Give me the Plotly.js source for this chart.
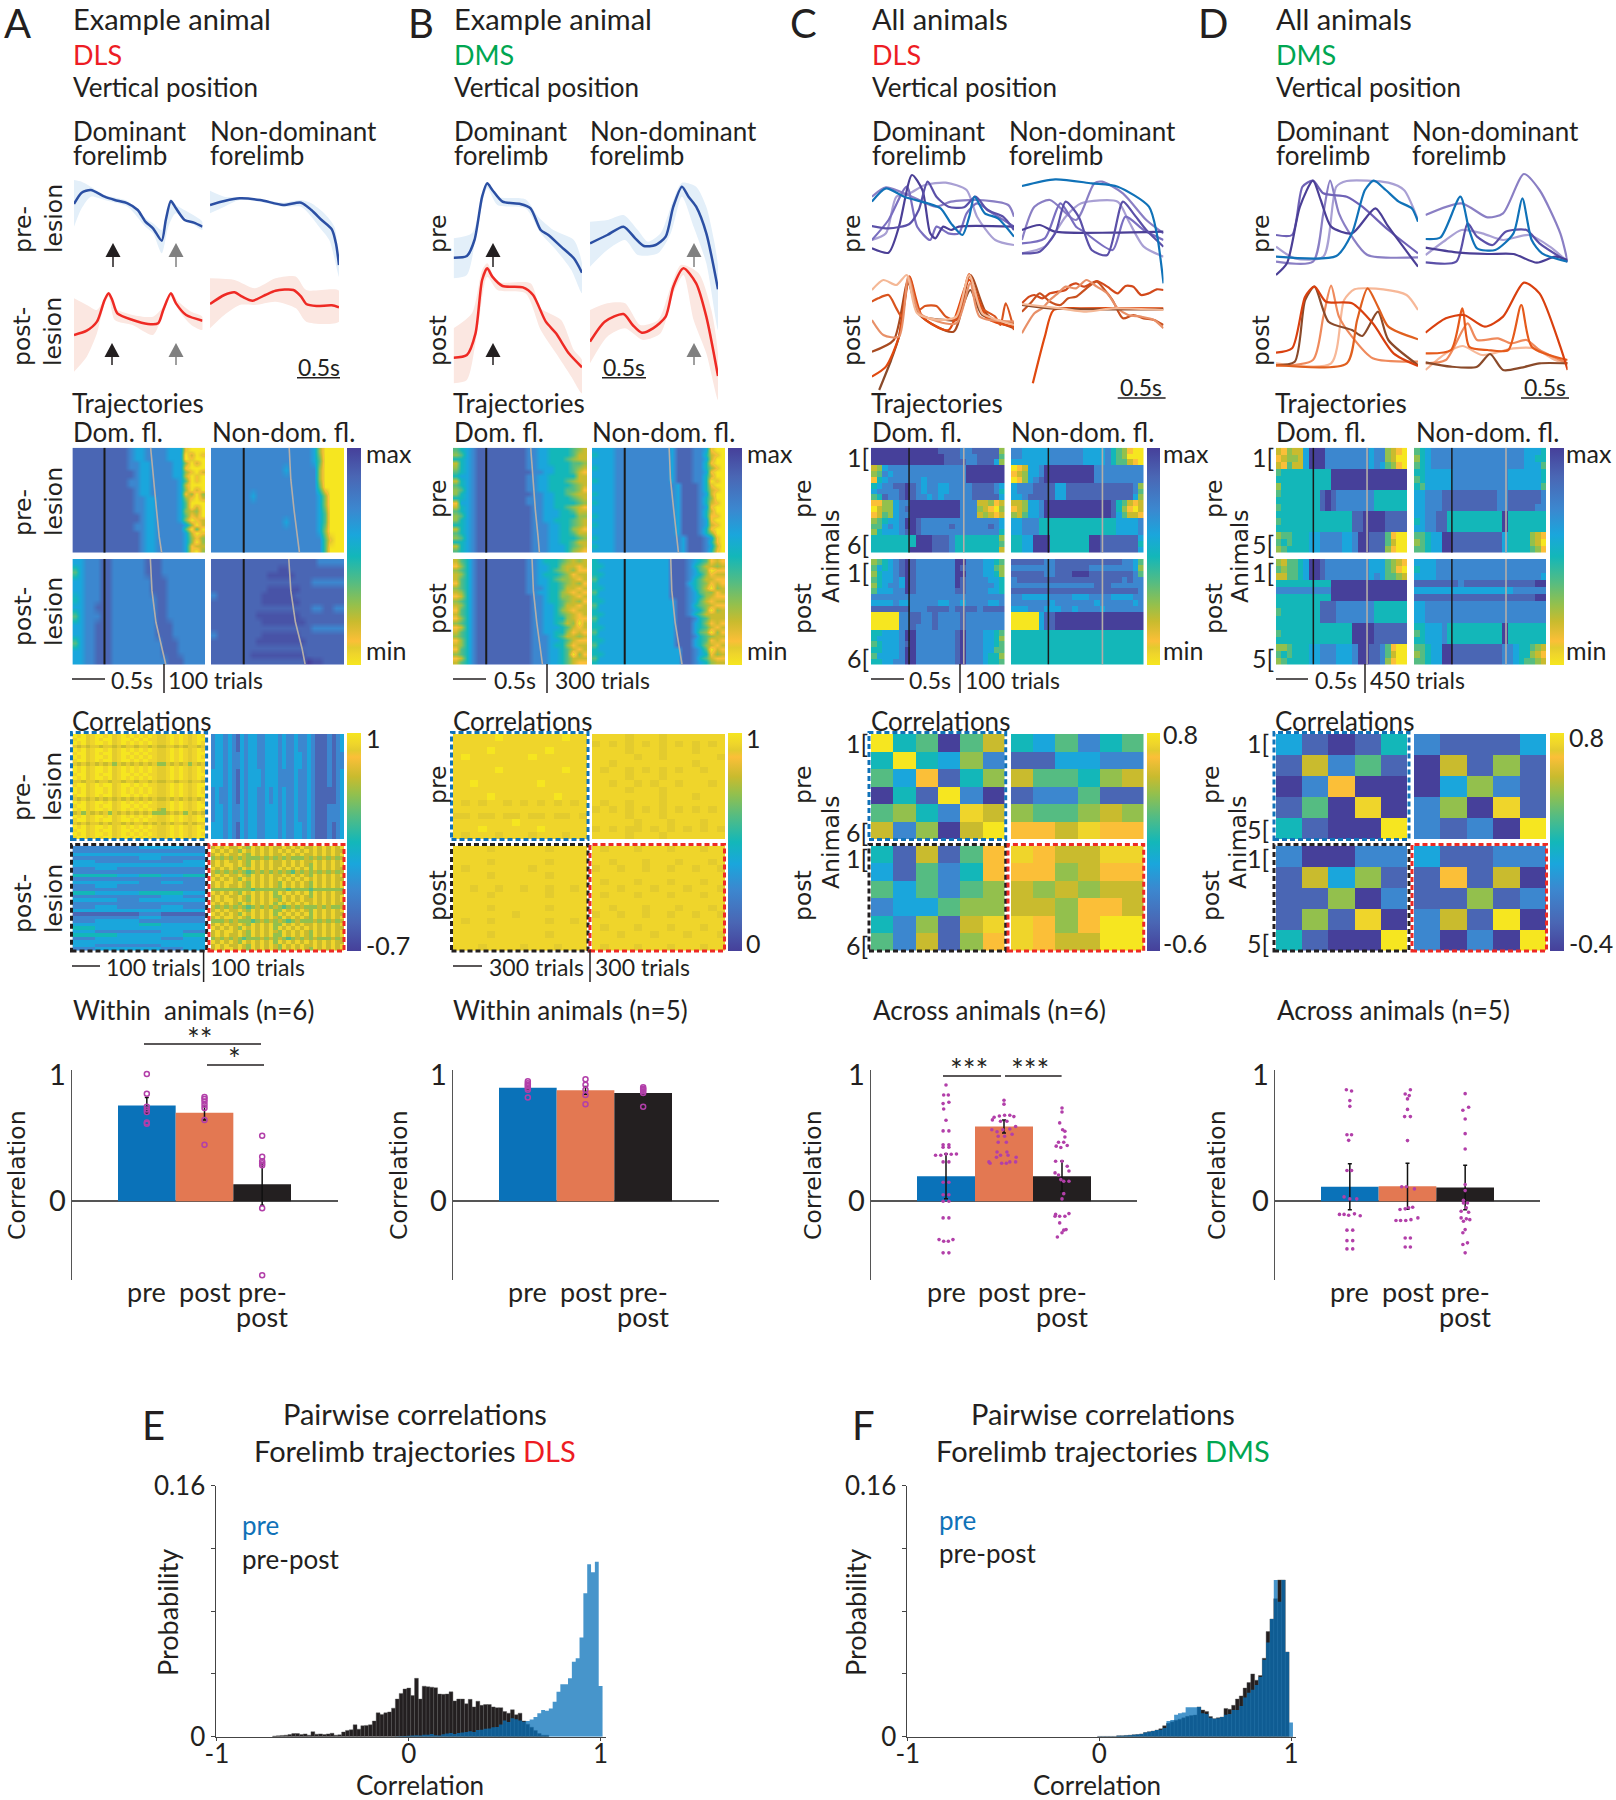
<!DOCTYPE html>
<html><head><meta charset="utf-8">
<script src="https://cdn.plot.ly/plotly-3.0.1.min.js"></script>
<style>html,body{margin:0;padding:0;background:#fff}#g{width:1616px;height:1800px}</style></head>
<body><div id="g"></div>
<script>
/* ---------- read-off data: vertical position traces (time, position in read-off units) ---------- */
const A_dom_pre=[[145,612],[160,578],[178,570],[205,590],[225,600],[250,610],[270,630],[285,665],[300,685],[317,722],[325,660],[335,603],[345,625],[362,660],[380,668],[397,680]];
const A_dom_pre_up=[[145,540],[160,545],[178,560],[205,585],[250,603],[285,655],[300,670],[317,690],[335,598],[345,615],[397,665]];
const A_dom_pre_lo=[[145,680],[160,625],[178,590],[205,600],[250,620],[285,680],[300,700],[317,760],[330,680],[345,640],[397,690]];
const A_nd_pre=[[412,615],[440,603],[470,595],[510,600],[555,615],[590,608],[610,630],[630,660],[650,688],[658,730],[664,795]];
const A_nd_pre_up=[[412,572],[440,590],[470,592],[510,597],[555,608],[590,600],[610,610],[635,640],[655,680],[664,790]];
const A_nd_pre_lo=[[412,640],[440,620],[470,600],[510,605],[555,620],[590,620],[610,650],[625,680],[645,720],[664,830]];
const A_dom_post=[[145,1005],[170,992],[190,965],[205,900],[213,880],[220,900],[230,940],[260,960],[290,972],[310,970],[320,930],[335,880],[345,910],[365,945],[397,962]];
const A_dom_post_up=[[145,895],[170,915],[190,930],[205,895],[213,875],[225,925],[260,945],[300,950],[320,920],[335,875],[350,905],[375,935],[397,950]];
const A_dom_post_lo=[[145,1115],[170,1070],[190,1000],[205,910],[213,890],[225,960],[260,975],[300,1005],[320,940],[335,890],[350,930],[375,975],[397,990]];
const A_nd_post=[[412,912],[440,885],[460,877],[475,890],[495,902],[520,885],[540,872],[575,870],[590,890],[600,912],[620,918],[650,916],[664,922]];
const A_nd_post_up=[[412,835],[460,840],[500,865],[540,835],[580,830],[600,870],[664,872]];
const A_nd_post_lo=[[412,985],[440,945],[470,915],[500,915],[540,905],[580,925],[600,965],[664,965]];

const B_dom_pre=[[889,773],[915,768],[930,720],[945,590],[955,550],[965,570],[985,605],[1020,612],[1040,625],[1060,690],[1075,705],[1100,740],[1125,775],[1141,818]];
const B_dom_pre_up=[[889,715],[925,700],[945,590],[955,547],[975,590],[1030,598],[1055,650],[1085,690],[1125,720],[1141,790]];
const B_dom_pre_lo=[[889,835],[915,825],[935,690],[955,565],[975,615],[1030,625],[1060,700],[1090,750],[1120,810],[1141,880]];
const B_nd_pre=[[1156,730],[1190,705],[1222,680],[1245,715],[1262,738],[1285,735],[1305,710],[1320,620],[1337,560],[1350,590],[1365,620],[1385,700],[1408,868]];
const B_nd_pre_up=[[1156,665],[1190,660],[1222,645],[1250,690],[1270,725],[1295,700],[1320,600],[1337,548],[1365,560],[1385,620],[1400,720],[1408,800]];
const B_nd_pre_lo=[[1156,800],[1190,750],[1225,720],[1250,765],[1290,760],[1315,700],[1337,590],[1360,680],[1385,790],[1408,990]];
const B_dom_post=[[889,1073],[915,1065],[932,1000],[945,840],[955,805],[965,830],[985,858],[1025,862],[1045,885],[1070,965],[1090,1000],[1115,1060],[1141,1102]];
const B_dom_post_up=[[889,985],[925,940],[945,810],[955,790],[975,845],[1040,850],[1060,925],[1100,960],[1125,1050],[1141,1080]];
const B_dom_post_lo=[[889,1150],[915,1140],[935,1000],[955,830],[975,870],[1030,880],[1060,990],[1090,1060],[1120,1130],[1141,1180]];
const B_nd_post=[[1156,1025],[1185,965],[1222,942],[1240,975],[1258,998],[1280,985],[1305,950],[1320,860],[1340,805],[1365,850],[1385,950],[1408,1128]];
const B_nd_post_up=[[1156,930],[1190,910],[1225,910],[1255,975],[1290,960],[1315,860],[1335,795],[1370,820],[1395,930],[1408,1060]];
const B_nd_post_lo=[[1156,1090],[1190,1010],[1225,985],[1260,1020],[1295,1000],[1320,880],[1340,825],[1360,960],[1385,1060],[1408,1200]];

const C_dom_pre_lines=[
 ['#a9a0d4',[[138,720],[165,700],[185,590],[210,580],[240,555],[280,548],[320,570],[340,650],[375,720],[411,735]]],
 ['#8a7fc4',[[138,590],[165,562],[215,590],[260,620],[290,605],[340,600],[400,615],[411,650]]],
 ['#7a6fc0',[[138,720],[170,660],[205,560],[225,680],[250,720],[262,680],[285,700],[305,700],[320,640],[340,610],[370,640],[411,680]]],
 ['#4b3f96',[[138,745],[170,758],[190,680],[215,525],[235,570],[250,700],[260,715],[275,680],[290,690],[305,680],[411,680]]],
 ['#5b50a8',[[138,678],[170,685],[210,672],[228,630],[245,545],[262,590],[285,620],[315,622],[337,590],[360,630],[390,650],[411,690]]],
 ['#1072b8',[[138,605],[165,565],[200,590],[245,610],[270,625],[290,670],[312,705],[325,650],[335,590],[355,640],[380,655],[411,710]]]];
const C_nd_pre_lines=[
 ['#a9a0d4',[[426,760],[470,740],[510,650],[540,610],[610,605],[630,660],[660,740],[698,770]]],
 ['#8a7fc4',[[426,720],[450,620],[480,600],[530,660],[565,550],[580,545],[620,580],[665,660],[698,700]]],
 ['#7a6fc0',[[426,730],[470,715],[500,610],[530,680],[545,695],[600,750],[625,650],[660,690],[698,720]]],
 ['#4b3f96',[[426,690],[460,675],[490,695],[600,698],[698,695]]],
 ['#5b50a8',[[426,760],[460,755],[490,700],[510,605],[535,650],[560,750],[590,765],[620,605],[640,640],[665,690],[698,740]]],
 ['#1072b8',[[426,558],[490,538],[560,550],[610,560],[670,620],[685,700],[698,850]]]];
const C_dom_post_lines=[
 ['#8a4a2a',[[152,1170],[175,1080],[190,1010],[208,850],[230,945],[280,960],[300,960],[327,870],[350,945],[411,970]]],
 ['#a84a20',[[138,1055],[180,1020],[208,840],[230,945],[295,995],[327,825],[360,945],[411,985]]],
 ['#e0490f',[[138,1130],[165,1100],[190,1010],[210,830],[235,950],[285,990],[325,840],[360,955],[411,980]]],
 ['#d9541e',[[138,905],[150,895],[170,885],[185,925],[195,950],[210,830],[228,930],[240,918],[262,918],[280,950],[300,960],[325,822],[345,920],[375,950],[385,975],[395,910],[411,990]]],
 ['#e89068',[[138,960],[160,1005],[190,1010],[208,830],[230,940],[300,970],[327,850],[345,950],[411,965]]],
 ['#f4b896',[[138,870],[160,840],[185,855],[205,825],[225,940],[270,960],[300,950],[325,825],[350,940],[380,960],[411,975]]]];
const C_nd_post_lines=[
 ['#e0490f',[[447,1150],[470,1010],[487,930],[540,925],[698,925]]],
 ['#d2491b',[[426,910],[440,890],[450,885],[465,895],[480,880],[495,875],[510,870],[520,855],[530,850],[545,860],[570,843],[590,860],[610,880],[625,858],[640,860],[655,885],[670,880],[685,868],[698,870]]],
 ['#c8501f',[[426,935],[445,905],[460,880],[480,905],[500,915],[515,895],[530,890],[550,865],[570,845],[585,870],[600,900],[620,955],[640,945],[660,955],[680,960],[698,975]]],
 ['#e89068',[[426,1000],[450,940],[465,925],[480,900],[495,880],[510,860],[530,865],[550,840],[570,860],[590,880],[610,925],[630,945],[655,950],[680,960],[698,985]]],
 ['#8a4a2a',[[426,915],[480,925],[698,928]]],
 ['#f4b896',[[426,912],[500,925],[550,935],[600,925],[698,930]]]];
const D_dom_pre_lines=[
 ['#a9a0d4',[[914,740],[950,775],[1005,770],[1030,560],[1050,543],[1130,548],[1160,570],[1187,660]]],
 ['#8a7fc4',[[914,785],[985,785],[1005,640],[1018,542],[1035,640],[1060,710],[1090,765],[1187,772]]],
 ['#6f62b6',[[914,705],[945,705],[965,560],[985,542],[1005,580],[1050,590],[1080,620],[1130,690],[1187,760]]],
 ['#4b3f96',[[914,825],[935,790],[960,620],[985,542],[1000,600],[1020,680],[1060,700],[1105,625],[1130,680],[1187,800]]],
 ['#1072b8',[[914,770],[1030,768],[1060,700],[1085,570],[1102,542],[1125,570],[1150,605],[1175,625],[1187,665]]]];
const D_nd_pre_lines=[
 ['#8a7fc4',[[1201,645],[1270,610],[1320,652],[1350,640],[1390,522],[1420,570],[1460,700],[1474,785]]],
 ['#a9a0d4',[[1201,765],[1240,720],[1270,690],[1310,700],[1350,720],[1400,705],[1440,740],[1474,785]]],
 ['#5b50a8',[[1201,787],[1260,785],[1282,670],[1300,710],[1330,735],[1355,695],[1395,690],[1420,730],[1474,785]]],
 ['#4b3f96',[[1201,743],[1260,757],[1320,762],[1370,762],[1415,788],[1450,770],[1474,780]]],
 ['#1072b8',[[1201,717],[1230,712],[1268,590],[1285,690],[1300,745],[1335,750],[1370,700],[1387,595],[1405,720],[1425,760],[1474,785]]]];
const D_dom_post_lines=[
 ['#f7b898',[[914,1090],[1020,1090],[1045,900],[1065,868],[1120,868],[1165,885],[1187,930]]],
 ['#ef8a5c',[[914,1098],[985,1080],[1005,950],[1020,857],[1035,950],[1060,1010],[1100,1075],[1187,1085]]],
 ['#8a4a2a',[[914,1095],[950,1085],[970,900],[988,860],[1015,965],[1060,990],[1080,1008],[1110,935],[1130,1020],[1187,1095]]],
 ['#e0601f',[[914,1095],[1050,1090],[1070,960],[1090,865],[1110,920],[1130,980],[1187,1018]]],
 ['#d9400f',[[914,1058],[945,1045],[970,890],[988,860],[1010,905],[1060,910],[1100,970],[1140,1060],[1187,1098]]]];
const D_nd_post_lines=[
 ['#f7b898',[[1201,1110],[1240,1060],[1272,1038],[1310,1065],[1370,1045],[1410,1045],[1450,1080],[1474,1090]]],
 ['#ef8a5c',[[1201,1090],[1240,1080],[1282,970],[1300,1020],[1340,1015],[1365,1030],[1395,1020],[1420,1050],[1474,1090]]],
 ['#8a4a2a',[[1201,1087],[1250,1100],[1300,1100],[1325,1062],[1350,1110],[1385,1103],[1420,1090],[1474,1090]]],
 ['#e55a1b',[[1201,1060],[1250,1050],[1272,925],[1285,1040],[1320,1050],[1360,1050],[1385,915],[1405,1040],[1474,1080]]],
 ['#d9400f',[[1201,998],[1240,955],[1275,945],[1315,980],[1350,950],[1390,848],[1420,880],[1460,1040],[1474,1110]]]];

/* ---------- trial-by-time matrices: colour levels read per cell, 0=min ... 9=max ---------- */
const H_A_dom_pre=["888888888876677776661000","888888888876677776660201","888888888876677776660100","888888888877667777663020","888888888877667777661000","888888888887667777663102","888888888887667777662010","888888888877667777764010","888888888877667777762000","888888888887667777763020","888888888887667777761303","888888888887766777763102","888888888887766777764000","888888888887766777764020","888888888887766777763230","888888888888766777764120","888888888888766777763012","888888888887766777776302","888888888887766777774040","888888888888766777776201","888888888888766777776313","888888888888766777776303","888888888888766777776122","888888888888766777776103"];
const H_A_nd_pre=["777777777777777777630000","777777777777777777640000","777777777777767777730000","777777777777777777730000","777777777777777777740000","777777767777777777763000","777777777777777777763000","777777777777777777764000","777777777777767777764000","777777777777777777763000","777777777777777777774100","777777777777777777774000"];
const H_A_dom_post=["667778877777788877777777","467778877777788877777777","667778877777778887777777","667778877777778887777777","567778877777777887777777","667788877777777887777777","467778877777777887777777","667788877777777888777777","667788877777777888777777","467788877777777788877777","667788877777777788877777","667788877777777778887777"];
const H_A_nd_post=["888888888888888888877777","888888888888bb8888888888","8888888888bbbbb888888888","888888888888888888777777","8888888888bbbbbb88888888","788888888bbbbbb888888888","888888888bbbbbbb88888888","888888888888888888778877","88888888bbbbbbbb88888888","888888888bbbbbbbb8888888","888888888888888888777777","788888888bbbbbbb88888888","88888888bbbbbbbbb8888888","888888888888888888888888","8888888bbbbbbbbbb8888888","888888888888888889bb8888"];
const H_B_dom_pre=["456788888888877665555432","346788888888877665555422","556788888888877665554322","256788888888877665555443","356788888888877666555432","456788888888887766555421","566788888888877665555522","256788888888877665554322","456788888888877665555432","346788888888877665554431","356788888888887766554322","556788888888877766555432","166788888888877766555543","256788888888887766554321","456788888888887766655422","346788888888887766655533","356788888888887766555432","556788888888887776655432","256788888888887776655321","456788888888887776655422","346788888888887776655543","556788888888887776655422","256788888888887776665432","456788888888887776665321"];
const H_B_nd_pre=["666677777777776888776100","566677777777776888775210","666677777777776888776200","666677777777776888775100","566677777777776888775310","666677777777776888776100","666677777777776888775200","566677777777776888775010","666677777777777688875100","666677777777777688875210","566677777777777688876200","666677777777777688875300","566677777777777688875210","666677777777777688876100","666677777777777688875200","566677777777777688875110","666677777777777688876100","566677777777777688876210","666677777777777688875100","666677777777777688875300","566677777777777768887610","666677777777777768887510","566677777777777768887620","666677777777777768887510"];
const H_B_dom_post=["245788888888877655543232","135788888888877665532212","345788888888877665432311","235788888888877655543122","245788888888877665433212","145788888888877665543231","345788888888877765542212","235788888888877665532121","125788888888887765533212","345788888888887765543231","235788888888887766542212","145788888888887766532122","245788888888887766543212","135788888888887766553211","345788888888887766542302","125788888888887766654212","245788888888887766553121","345788888888887776542232","135788888888887776654211","235788888888887776553122","145788888888887776654212","345788888888887776654031","125788888888887776654222","245788888888887776654211"];
const H_B_nd_post=["566666666666668887654121","556666666666668887542232","566666666666668887643011","556666666666668887653122","466666666666668887542211","566666666666668886543121","556666666666668887542032","466666666666668887643312","566666666666668887653211","556666666666666887642122","466666666666666887543211","566666666666666887653032","556666666666666887542222","466666666666666888754222","566666666666666888653121","556666666666666888654212","466666666666666888643031","566666666666666888754322","556666666666666888654121","466666666666666888653212","566666666666666688764021","556666666666666688765132","466666666666666688754211","566666666666666688765322"];
const H_C_dom_pre=["999999999999888877888883","999999999999988877788884","999999999999988887788863","236777777777777779999999","347677777777777779999999","156777777677777779999999","567788987677667777888876","677778987677667777888875","458778987767677777888886","113367799999999977722312","023367899999999977732103","124367799999999977723212","345667998777777777777776","446767998777778777777876","356667898777777777777775","555555559998887555555553","555555559998887555555554","555555599998887555555552"];
const H_C_nd_pre=["776666677777766667543100","776666677777766667543000","666666677777766667544210","012667999999999777777777","123667999999999777777777","013678999999999777777777","677788886688888888888873","677788886688888888888874","667888886688888888888863","223667999999999999854212","123667999999999999853102","324667999999999999864221","667775555555555555566667","667775555555555555566667","667775555555555555566667","556699955555559988888886","556699955555559988888885","556699955555559988888886"];
const H_C_dom_post=["345678987777777997776654","465678987777777987776643","356678987777777997776653","456676987777777987777665","356776987777777987777765","466677987777777887777665","777777777777777777777777","666676677777667767777667","888888877788887888878888","000007788778777787777777","000007788778777787777777","000007787778777787777777","556667997777777897776654","566667997777777897776653","456667897777777897776654","556667997777777897776644","466667997777777897776553","556677997777777897776554"];
const H_C_nd_post=["888888778888888888887764","777777778888887777777763","888888778889998888888874","788888888888888888887877","777777777777777888777777","888888888888888888888887","776666677776667777666677","777777767777777677777767","666777666776777767777777","000006889999999999999999","000006889999999999999999","000006889999999999999999","555555555555555555555555","555555555555555555555555","555555555555555555555555","555555555555555555555555","555555555555555555555555","555555555555555555555555"];
const H_D_dom_pre=["213226999777777776773210","123326999777777776773200","214226999777777776764310","455555555599999999999999","555555555599999999999999","355555555599999999999999","455555558987777777555555","555555558987777777555555","455555558987777777555555","555555555555558899998888","455555555555558899998888","555555555555558899998888","344555667777667998884100","454555667777667998884200","345555667777667998883100"];
const H_D_nd_pre=["456777777777777777776665","356777777777777777776655","456777777777777777776664","556666677777777776666665","456666677777777776666665","546666677777777776666664","667778888888888778888887","667778888888888778888887","667778888888888778888877","667788555555555595555555","567788555555555595555555","667788555555555595555555","445669988888888865555321","345669988888888865555320","445669988888888865555431"];
const H_D_dom_post=["324456998777777776664321","434456998777777776664310","224456998777777776764432","555555555599999999999999","777777777799999999999999","555555555599999999999999","555555558887777777555555","455555558887777777555555","555555558887777777555555","555555555555559999888888","455555555555559999888888","555555555555559999888888","334555667776667998874100","454555667776667998874200","345555667776667998873100"];
const H_D_nd_post=["666677777777777777777777","566677777777777777777777","666677777777777777777776","888888887888888888888899","666666666666666666777777","888888888888888888888899","667777777777777777777777","667777777777777777777777","667777777777777777777777","556667555555555595555555","456667555555555595555555","556667555555555595555555","445669988888888877655432","345669988888888877655321","445669988888888877654432"];

/* ---------- event times inside the trial matrices, as fraction of trial ---------- */
const ev_A=[[.242,[.59,.61,.635,.655,.673]],[.246,[.588,.6,.625,.65,.665]],[.242,[.588,.6,.63,.675,.704]],[.246,[.585,.6,.635,.685,.708]]];
const ev_B=[[.248,[.58,.595,.615,.635,.645]],[.246,[.58,.59,.615,.64,.65]],[.248,[.59,.6,.625,.655,.668]],[.246,[.592,.6,.625,.66,.677]]];
const ev_C=[[.285,[.695,.695,.695,.695,.695]],[.282,[.69,.69,.69,.69,.69]],[.285,[.695,.695,.695,.695,.695]],[.282,[.69,.69,.69,.69,.69]]];
const ev_D=[[.285,[.695,.695,.695,.695,.695]],[.287,[.697,.697,.697,.697,.697]],[.285,[.695,.695,.695,.695,.695]],[.287,[.697,.697,.697,.697,.697]]];
const ev_frac=[0,.3,.6,.85,1];

/* ---------- correlation matrices (level 0/a/g/1 = top of scale ... 9 = bottom) ---------- */
const R_A_tl=["0a0ga00a0ga0a0a0a0agga0a0aga0a","a00ga0a00ga00a0a0aagga0a0aga00","0a0ga00a0ga0a0a0a0agga0a0aga0a","g2g2gg2gg2g2gg2gg2g22gg2g2gg2g","0a0ga00a0ga0a0a0a0agga0a0aga0a","a00ga0a00ga00a0a0aagga0a0aga00","0a0ga00a0ga0a0a0a0agga0a0aga0a","a00ga0a00ga00a0a0aagga0a0aga00","g2g2g2g2g3g2g2g2g2g33g2g2g3g2g","0a0ga00a0ga0a0a0a0agga0a0aga0a","0a0ga00a0ga0a0a0a0agga0a0aga0a","a00ga0a00ga00a0a0aagga0a0aga00","0a0ga00a0ga0a0a0a0agga0a0aga0a","gg2gg2gg2gg2gg2gg2g22gg2gg2gg2","a00ga0a00ga00a0a0aagga0a0aga00","0a0ga00a0ga0a0a0a0agga0a0aga0a","0a0ga00a0ga0a0a0a0agga0a0aga0a","a00ga0a00ga00a0a0aagga0a0aga00","g2g2g2g2g2g2g2g2g2g22g2g2g2g2g","0a0ga00a0ga0a0a0a0agga0a0aga0a","a00ga0a00ga00a0a0aagga0a0aga00","0a0ga00a0ga0a0a0a0a23a0a0aga0a","2g3g2g2g3g2g2g2g2g3332g2g3g2g2","0a0ga00a0ga0a0a0a0agga0a0aga0a","a00ga0a00ga00a0a0aagga0a0aga00","g2g2gg2g2gg2g2gg2g2g2g2gg2g2gg","0a0ga00a0ga0a0a0a0agga0a0aga0a","a00ga0a00ga00a0a0aagga0a0aga00","0a0ga00a0ga0a0a0a0agga0a0aga0a","a00ga0a00ga00a0a0aagga0a0aga00"];
const R_A_tr=["76676786766776667677677678887876","76676776766776667677667678887877","66676786766676667777677678887876","76776786766776767677677678888876","76676776766776667677677678887776","66676786766776667677667678887876"];
const R_A_bl=["777667","777777","666666","777677","677776","666666","767777","777777","556565","777777","666767","767777","777777","566556","777767","667666","777777","767767","666666","888788","777677","766777","666566","566666","677767","556665","766676","666666","677766","766676"];
const R_A_br=["2a2a22a23a2a2a22a2a2a22a2a2a2a","a2a2a23a2a2a2a2a2a2a2a2a2a2a22","2a2a22a23a2a2a22a2a2a22a2a2a2a","323232323332323232333232323232","2a2a22a23a2a2a22a2a2a22a2a2a2a","2a2aa2a23a2a2a22a2a2a23a2a2a2a","a2a2a23a2a2a2a2a2a2a2a3a2a2a22","232323234323232323423232323232","2a2a22a23a2a2a22a2a2a23a2a2a2a","a2a2a23a2a2a2a2a2a2a2a2a2a2a22","2a2aa2a23a2a2a23a2a2a23a2a2a2a","2a2a22a23a2a2a23a2a2a23a2a2a2a","333333333433333334333343333333","a2a2a23a2a2a2a3a2a2a2a3a2a2a22","2a2a22a23a2a2a33a2a2a23a2a2a2a","2a2aa2a23a2a2a23a2a2a22a2a2a2a","a2a2a23a2a2a2a3a2a2a2a2a2a2a22","232323234323232343232333232332","2a2a22a23a2a2a33a2a2a23a2a2a2a","a2a2a23a2a2a2a3a2a2a2a3a2a2a22","2a2aa2a23a2a2a23a2a2a23a2a2a2a","333232333432323234323332323232","2a2a22a23a2a2a33a2a2a22a2a2a2a","a2a2a23a2a2a2a3a2a2a2a2a2a2a22","2a2aa2a23a2a2a23a2a2a23a2a2a2a","2a2a22a23a2a2a33a2a2a23a2a2a2a","323232343332323234323232333232","a2a2a23a2a2a2a3a2a2a2a2a2a2a22","2a2a22a23a2a2a23a2a2a22a2a2a2a","2a2aa2a23a2a2a23a2a2a23a2a2a2a"];
const R_B_tl=["aaaaa0aaaaaaa0aa","aaaaaaaaaaaaaaaa","aaaa0aaaaaa0aaaa","a0aaaaaaa0aaaaaa","aaaaaaaaaaaaaaaa","aaaaa0aaaaaaa0aa","aaaaaaaaaaaaaaaa","aa0aaaaaaa0aaaaa","aaaaaaaaaaaaaaaa","aaaa0aaaaaaa0aaa","agagaagagagagaga","aaaaaaaaaaaaaaaa","ggaggaggaggaggag","aaaaaaa0aaaaaaaa","aaa0aaaaaa0aaaaa","agaaagaaagaaagaa"];
const R_B_tr=["aaaagaaagaaaaaaa","gagagagagagagaga","aaaagaaagaaagaaa","aaaaagaagaaaaaag","aagaaaaaaaaagaaa","agaagagagagaagaa","aaaagaaagaaaaaaa","aagaagagaagaaaga","aaaagaaagaaaaaaa","aaaaaaaagaaagaaa","agaagaaagaaaaaaa","gagagagagagagaga","aaaagaaagaaaaaaa","aaaaagaaagaaagaa","gagaggagagagagag","aaaagaaagaaaaaaa"];
const R_B_bl=["aaaagaaaaaagaaaa","aaaaaaaaaaaaaaaa","aaaagaaaaaagaaaa","agaaaaaaagaaaaaa","aaaagaaaaaagaaaa","aaaaaaaaaaaaaaaa","aagaagaagaagaaga","aaaagaaaaaagaaaa","aaaaaaaaaaaaaaaa","aaaagaaaaaagaaaa","aaaaaaagaaaaaaaa","agaagaaaaaagaaga","aaaaaaaaaaaaaaaa","aaaagaaaaaagaaaa","aaaaaaaaaaaaaaaa","aaagaaaagaaagaaa"];
const R_B_br=["agaaagaaagaaagaa","aaaaaaaaaaaaaaaa","aagaaagaaagaaaga","gaagaagaagaagaag","aaaaaaaaaaaaaaaa","agaaagaaagaaagaa","aaagaaagaaagaaag","agaaagaaagaaagaa","aaaaaaaaaaaaaaaa","aagaaagaaagaaaga","gaagaagaagaagaag","aaaaaaaaaaaaaaaa","agaaagaaagaaagaa","aaagaaagaaagaaag","aaaaaaaaaaaaaaaa","agaaagaaagaaagaa"];
const R_C_tl=["054942","505637","461853","958079","4357a2","273920"];
const R_C_tr=["564754","886677","244532","877488","344323","112a11"];
const R_C_bl=["582841","684751","464743","766433","57382a","472831"];
const R_C_br=["a122aa","113211","232322","223112","a13100","a12200"];
const R_D_tl=["68985","82748","97199","849a9","58990"];
const R_D_tr=["78886","92838","96378","739a8","78790"];
const R_D_bl=["79977","82638","88397","838a9","58990"];
const R_D_br=["68877","81829","88387","72809","79790"];

/* ---------- bar summaries ---------- */
const barLabels=['pre','post','pre-'];
const barLabels2=['','','post'];
const barColors=['#0a72b9','#e37852','#231f20'];
const mean_A=[.73,.675,.13], err_A=[.06,.055,.16];
const mean_B=[.865,.845,.825], err_B=[.015,.03,.02];
const mean_C=[.19,.57,.19], err_up_C=[.17,.05,.115], err_lo_C=[.17,.05,.115];
const mean_D=[.11,.115,.105], err_D=[.175,.175,.17];
const pts_A_pre=[.97,.82,.72,.70,.68,.60,.59], pts_A_post=[.795,.78,.76,.735,.71,.62,.43], pts_A_pp=[.50,.34,.305,.29,.275,-.053,-.563];
const pts_B_pre=[.914,.90,.888,.876,.863,.85,.79], pts_B_post=[.93,.888,.85,.81,.74], pts_B_pp=[.868,.858,.85,.838,.825,.72];
const pts_C_pre=[.886,.81,.81,.744,.754,.703,.617,.536,.536,.431,.431,.411,.411,.35,.35,.36,.358,.36,.30,.30,.145,.145,.05,.05,0,0,-.127,-.127,-.292,-.305,-.305,-.292,-.393,-.393];
const off_C_pre=[0,-.04,.04,-.05,.05,-.04,0,-.05,.05,-.05,.05,-.05,.05,-.18,-.09,0,.09,.18,-.05,.05,-.05,.05,-.05,.05,-.05,.05,-.05,.05,-.12,-.04,.04,.12,-.05,.05];
const pts_C_post=[.77,.74,.64,.65,.655,.655,.645,.62,.61,.61,.545,.53,.545,.55,.57,.495,.495,.51,.45,.45,.375,.375,.35,.35,.335,.335,.30,.30,.29,.29,.29,.30];
const off_C_post=[0,0,-.17,-.08,.01,.1,.17,-.2,-.06,.05,-.21,-.12,-.02,.1,.2,-.1,.01,.14,-.1,.04,-.12,.05,-.06,.07,-.13,.21,-.26,.1,-.04,-.24,.04,.2];
const pts_C_pp=[.71,.68,.597,.545,.533,.49,.45,.45,.42,.425,.41,.305,.305,.267,.23,.216,.2,.165,.152,.152,.058,.018,-.10,-.114,-.094,-.114,-.114,-.165,-.216,-.24,-.272,-.22];
const off_C_pp=[0,0,-.04,.01,.05,.05,-.06,.03,-.1,.09,-.02,-.11,0,.09,.12,-.12,-.06,-.02,.12,.03,.03,0,-.11,-.04,.12,.05,-.12,-.04,.07,0,-.08,.03];
const pts_D_pre=[.85,.84,.767,.723,.507,.507,.464,.234,.234,.033,.018,.018,-.10,-.10,-.107,-.096,-.11,-.22,-.22,-.30,-.30,-.363,-.363];
const off_D_pre=[-.06,.03,0,0,-.05,.03,-.02,-.05,.03,-.1,0,.12,-.18,-.1,-.02,.08,.18,-.05,.05,-.05,.05,-.05,.05];
const pts_D_post=[.85,.817,.805,.78,.70,.645,.645,.462,.11,.11,.094,-.05,-.063,-.058,-.046,-.147,-.147,-.147,-.14,-.127,-.28,-.28,-.348,-.348];
const off_D_post=[.05,-.04,.03,0,0,-.05,.05,0,-.1,-.02,.12,.02,-.13,-.04,.09,-.2,-.12,-.03,.06,.18,-.04,.05,-.04,.05];
const pts_D_pp=[.82,.716,.693,.627,.515,.398,.127,.081,.008,-.013,-.013,-.05,-.076,-.084,-.127,-.134,-.14,-.152,-.216,-.24,-.317,-.33,-.393];
const off_D_pp=[0,.06,-.04,0,0,0,0,0,-.03,.04,-.03,.02,-.07,.06,-.07,.02,.08,-.03,0,-.04,.04,-.04,0];

/* ---------- pairwise correlation histograms, bin width 0.02 ---------- */
const E_prepost_start=-.70;
const E_prepost=[.0004,.0006,.0008,.0010,.0014,.0020,.0020,.0014,.0018,.0010,.0032,.0016,.0018,.0014,.0018,.0022,.0010,.0012,.0030,.0040,.0044,.0076,.0048,.0070,.0072,.0076,.0100,.0152,.0142,.0152,.0158,.0182,.0240,.0276,.0304,.0310,.0262,.0372,.0240,.0322,.0318,.0316,.0312,.0272,.0270,.0272,.0286,.0228,.0240,.0240,.0210,.0238,.0190,.0226,.0200,.0205,.0205,.0190,.0185,.0185,.0160,.0150,.0172,.0140,.0150,.0100,.0080,.0060,.0040,.0020,.0010,.0010];
const E_pre_start=-.06;
const E_pre=[.0002,.0003,.0005,.0006,.0008,.0010,.0008,.0012,.0012,.0018,.0010,.0008,.0016,.0020,.0024,.0018,.0024,.0026,.0030,.0034,.0030,.0042,.0044,.0050,.0052,.0060,.0062,.0078,.0104,.0094,.0118,.0112,.0104,.0096,.0100,.0110,.0125,.0150,.0170,.0165,.0180,.0223,.0287,.0334,.0334,.0372,.0478,.0500,.0633,.0914,.1100,.1048,.1116,.0323];
const F_start=0;
const F_pre=[.0002,.0002,.0002,.0002,.0002,.0006,.0006,.0008,.0010,.0012,.0014,.0018,.0026,.0032,.0036,.0042,.0044,.0056,.0100,.0106,.0140,.0150,.0155,.0187,.0187,.0187,.0190,.0150,.0145,.0120,.0115,.0118,.0125,.0140,.0145,.0170,.0170,.0195,.0250,.0280,.0300,.0330,.0380,.0490,.0600,.0750,.0999,.0860,.0999,.0540,.0090];
const F_prepost=[.0002,.0002,.0002,.0002,.0002,.0006,.0006,.0008,.0010,.0012,.0014,.0018,.0026,.0032,.0036,.0042,.0050,.0070,.0085,.0095,.0105,.0112,.0120,.0130,.0135,.0138,.0190,.0170,.0160,.0128,.0115,.0120,.0125,.0180,.0175,.0200,.0240,.0260,.0310,.0345,.0400,.0360,.0390,.0500,.0670,.0750,.0880,.0999,.0999,.0540,0];

/* ---------- styling ---------- */
const W=1616,H=1800, TXT='#231f20', FONT='Lato', ROT='DejaVu Sans';
const levelValue={'0':0,'a':.05,'g':.08,'1':.11,'2':.2,'3':.28,'4':.38,'5':.5,'6':.6,'7':.72,'8':.87,'b':.935,'9':1};
const stops=[[0,'#f6e620'],[.05,'#efd52b'],[.08,'#e3cb2e'],[.11,'#fbbf38'],[.2,'#c9bb2e'],[.28,'#93c04d'],[.38,'#55bc82'],[.5,'#13b7b9'],[.6,'#1aa6dc'],[.72,'#3c87cf'],[.87,'#4a66b4'],[1,'#46409a']];
const stopsRev=stops.map(s=>[1-s[0],s[1]]).reverse();
const data=[],annotations=[],shapes=[];
const layout={width:W,height:H,margin:{l:0,r:0,t:0,b:0},paper_bgcolor:'#fff',plot_bgcolor:'rgba(0,0,0,0)',showlegend:false,hovermode:false,barmode:'overlay',annotations,shapes,font:{family:FONT,color:TXT}};
let n=1;
function axes(x0,x1,y0,y1,xo,yo){n++;
 layout['xaxis'+n]=Object.assign({domain:[x0/W,x1/W],anchor:'y'+n,visible:false,fixedrange:true},xo);
 layout['yaxis'+n]=Object.assign({domain:[1-y1/H,1-y0/H],anchor:'x'+n,visible:false,fixedrange:true},yo);
 return {xaxis:'x'+n,yaxis:'y'+n};}
function T(text,x,y,o){o=o||{};const an=o.anchor||'left';const dx=o.rot?0:(an=='left'?-2:(an=='right'?2:0));annotations.push({text,x:(x+dx)/W,y:1-(y-1)/H,xref:'paper',yref:'paper',showarrow:false,xanchor:an,yanchor:'middle',align:o.align||'left',textangle:o.rot?-90:0,font:{family:o.rot?ROT:FONT,size:o.size||(o.rot?23.5:26),color:o.color||TXT}});}
function R(text,x,y,o){T(text,x,y,Object.assign({rot:true,anchor:'center'},o||{}));}
function L(x0,y0,x1,y1,color,w,dash){shapes.push({type:'line',xref:'paper',yref:'paper',x0:x0/W,x1:x1/W,y0:1-y0/H,y1:1-y1/H,line:{color:color||TXT,width:w||1.5,dash:dash||'solid'}});}
function arrow(x,top,bot,c){const p=(a,b)=>(a/W)+','+(1-b/H);
 L(x,top+12,x,bot,c,1.5);
 shapes.push({type:'path',xref:'paper',yref:'paper',path:'M'+p(x,top)+' L'+p(x+7.5,top+14)+' L'+p(x-7.5,top+14)+' Z',fillcolor:c,line:{width:0}});}
function series(pts,ax,color,w){data.push(Object.assign({type:'scatter',mode:'lines',x:pts.map(p=>p[0]),y:pts.map(p=>p[1]),line:{color,width:w,shape:'spline',smoothing:.7},cliponaxis:false,hoverinfo:'skip'},ax));}
function band(up,lo,ax,color){const r=lo.slice().reverse();data.push(Object.assign({type:'scatter',mode:'lines',x:up.concat(r).map(p=>p[0]),y:up.concat(r).map(p=>p[1]),fill:'toself',fillcolor:color,line:{width:0,color:color,shape:'spline',smoothing:.7},cliponaxis:false,hoverinfo:'skip'},ax));}
const traceY={range:[1200,510]};
function tracePanel(x0,x1,zx0,zx1){return axes(x0,x1,170,400,{range:[zx0,zx1]},traceY);}
const BLUEBAND='#e3eff9',REDBAND='#fbe7e1',BLUE='#2b4fa3',RED='#ee2a24';
function bandPanel(ax,pre,preU,preL,post,postU,postL){
 band(preU,preL,ax,BLUEBAND);band(postU,postL,ax,REDBAND);series(pre,ax,BLUE,2.5);series(post,ax,RED,2.5);}
function linesPanel(ax,a,b){a.concat(b).forEach(l=>series(l[1],ax,l[0],2.2));}

/* trajectory panels */
let p=tracePanel(74,202.5,145,397);bandPanel(p,A_dom_pre,A_dom_pre_up,A_dom_pre_lo,A_dom_post,A_dom_post_up,A_dom_post_lo);
p=tracePanel(210,339,412,664);bandPanel(p,A_nd_pre,A_nd_pre_up,A_nd_pre_lo,A_nd_post,A_nd_post_up,A_nd_post_lo);
p=tracePanel(453.6,582,889,1141);bandPanel(p,B_dom_pre,B_dom_pre_up,B_dom_pre_lo,B_dom_post,B_dom_post_up,B_dom_post_lo);
p=tracePanel(590,718,1156,1408);bandPanel(p,B_nd_pre,B_nd_pre_up,B_nd_pre_lo,B_nd_post,B_nd_post_up,B_nd_post_lo);
p=tracePanel(871.9,1014,138,411);linesPanel(p,C_dom_pre_lines,C_dom_post_lines);
p=tracePanel(1021.9,1163.5,426,698);linesPanel(p,C_nd_pre_lines,C_nd_post_lines);
p=tracePanel(1276,1418,914,1187);linesPanel(p,D_dom_pre_lines,D_dom_post_lines);
p=tracePanel(1425.5,1567.6,1201,1474);linesPanel(p,D_nd_pre_lines,D_nd_post_lines);

/* matrices */
function toLevels(rows){const w=Math.max.apply(null,rows.map(r=>r.length));return rows.map(r=>{const o=[];for(let i=0;i<w;i++){o.push(levelValue[r[Math.min(i,r.length-1)]]);}return o;});}
function matrix(rows,x0,x1,y0,y1,opt){
 const lv=toLevels(rows),nr=lv.length,nc=lv[0].length;
 const ax=axes(x0,x1,y0,y1,{range:[0,1]},{range:[1,0]});
 const xs=lv[0].map((_,i)=>(i+.5)/nc),ys=lv.map((_,j)=>(j+.5)/nr);
 const lo=opt.zmin,hi=opt.zmax;
 const z=opt.corr?lv.map(r=>r.map(v=>lo+(1-v)*(hi-lo))):lv;
 const tr=Object.assign({type:'heatmap',x:xs,y:ys,z,zmin:opt.corr?lo:0,zmax:opt.corr?hi:1,colorscale:opt.corr?stopsRev:stops,hoverinfo:'skip',xgap:0,ygap:0,showscale:!!opt.cb,zsmooth:opt.smooth?'best':false},ax);
 if(opt.cb){tr.colorbar={x:opt.cb[0]/W,xanchor:'left',xpad:0,ypad:0,y:1-opt.cb[2]/H,yanchor:'top',len:(opt.cb[3]-opt.cb[2])/H,lenmode:'fraction',thickness:opt.cb[1]-opt.cb[0],thicknessmode:'pixels',outlinewidth:0,borderwidth:0,tickvals:[],showticklabels:false,ticks:''};}
 data.push(tr);
 if(opt.ev){data.push(Object.assign({type:'scatter',mode:'lines',x:[opt.ev[0],opt.ev[0]],y:[0,1],line:{color:'#1a1a1a',width:opt.thin?1.5:2},hoverinfo:'skip'},ax));
  data.push(Object.assign({type:'scatter',mode:'lines',x:opt.ev[1],y:ev_frac,line:{color:'#b5aea8',width:1.6},hoverinfo:'skip'},ax));}
}
const TOP=[447.7,552.7],BOT=[559,664.5],CTOP=[734,839],CBOT=[845.7,950.7];
const cols=[
 {l:[72.4,205],r:[211,344],cb:[347,361],h:[H_A_dom_pre,H_A_nd_pre,H_A_dom_post,H_A_nd_post],ev:ev_A,sm:true,c:[R_A_tl,R_A_tr,R_A_bl,R_A_br],rng:[-.7,1],f:[[71.5,206.6],[209,344]]},
 {l:[453,587],r:[592,725],cb:[728,742],h:[H_B_dom_pre,H_B_nd_pre,H_B_dom_post,H_B_nd_post],ev:ev_B,sm:true,c:[R_B_tl,R_B_tr,R_B_bl,R_B_br],rng:[0,1],f:[[451.5,588],[590,724.5]]},
 {l:[871,1004.5],r:[1011,1143.5],cb:[1146.6,1160],h:[H_C_dom_pre,H_C_nd_pre,H_C_dom_post,H_C_nd_post],ev:ev_C,sm:false,c:[R_C_tl,R_C_tr,R_C_bl,R_C_br],rng:[-.6,.8],f:[[869,1005.7],[1008,1143.7]]},
 {l:[1276,1407],r:[1414,1546],cb:[1550,1564],h:[H_D_dom_pre,H_D_nd_pre,H_D_dom_post,H_D_nd_post],ev:ev_D,sm:false,c:[R_D_tl,R_D_tr,R_D_bl,R_D_br],rng:[-.4,.8],f:[[1274,1409],[1412,1546.5]]}];
cols.forEach(c=>{
 const pos=[[c.l,TOP],[c.r,TOP],[c.l,BOT],[c.r,BOT]];
 pos.forEach((q,i)=>matrix(c.h[i],q[0][0],q[0][1],q[1][0],q[1][1],{ev:c.ev[i],smooth:c.sm,thin:!c.sm,cb:i==0?[c.cb[0],c.cb[1],447.7,664.5]:null}));
 const cp=[[c.l,CTOP],[c.r,CTOP],[c.l,CBOT],[c.r,CBOT]];
 cp.forEach((q,i)=>matrix(c.c[i],q[0][0],q[0][1],q[1][0],q[1][1],{corr:true,zmin:c.rng[0],zmax:c.rng[1],cb:i==0?[c.cb[0],c.cb[1],733,950.7]:null}));
 const fr=(f,t,b,col)=>shapes.push({type:'rect',xref:'paper',yref:'paper',x0:f[0]/W,x1:f[1]/W,y0:1-b/H,y1:1-t/H,line:{color:col,width:3,dash:'5px,3px'}});
 fr(c.f[0],732.5,839.5,'#1072b8');fr(c.f[0],844.5,951,'#231f20');fr(c.f[1],844.5,951,'#ee2a24');
});

/* bar panels */
function barPanel(axX,axEnd,barL,barR,mean,up,lo,sets,open){
 const unit=(barR-barL)/3,left=-.5-(barL-axX)/unit,right=2.5+(axEnd-barR)/unit;
 const ax=axes(axX,axEnd,1070,1280,
  {visible:true,range:[left,right],tickmode:'array',tickvals:[0,1,2],showticklabels:false,ticks:'',showgrid:false,zeroline:false,showline:false},
  {visible:true,range:[-.6,1],tickmode:'array',tickvals:[0,1],showticklabels:false,ticks:'inside',ticklen:5,tickcolor:'#555',showgrid:false,zeroline:true,zerolinecolor:'#555',zerolinewidth:2,showline:true,linecolor:'#555',linewidth:1.5});
 data.push(Object.assign({type:'bar',x:[0,1,2],y:mean,width:1,marker:{color:barColors,line:{width:0}},error_y:{type:'data',symmetric:false,array:up,arrayminus:lo,color:'#111',thickness:1.5,width:2},hoverinfo:'skip'},ax));
 sets.forEach((s,i)=>data.push(Object.assign({type:'scatter',mode:'markers',x:s[0].map((v,k)=>i+(s[1]?s[1][k]:0)),y:s[0],marker:open?{symbol:'circle-open',size:5,color:'#b23fa9',line:{width:1.5,color:'#b23fa9'}}:{size:3.6,color:'#b23fa9'},hoverinfo:'skip'},ax)));
 barLabels.forEach((t,i)=>{const cx=barL+unit*(i+.5);T(t,cx,1292,{anchor:'center',size:27});if(barLabels2[i])T(barLabels2[i],cx,1317,{anchor:'center',size:27});});
 T('1',axX-6,1074,{anchor:'right',size:29});T('0',axX-6,1200,{anchor:'right',size:29});
}
barPanel(72,338,118,291,mean_A,err_A,err_A,[[pts_A_pre],[pts_A_post],[pts_A_pp]],true);
barPanel(453,719,499,672,mean_B,err_B,err_B,[[pts_B_pre],[pts_B_post],[pts_B_pp]],true);
barPanel(871,1137,917,1091,mean_C,err_up_C,err_lo_C,[[pts_C_pre,off_C_pre],[pts_C_post,off_C_post],[pts_C_pp,off_C_pp]],false);
barPanel(1275,1540,1321,1494,mean_D,err_D,err_D,[[pts_D_pre,off_D_pre],[pts_D_post,off_D_post],[pts_D_pp,off_D_pp]],false);

/* histograms */
function bins(start,vals){return vals.map((_,i)=>start+.02*i);}
function histPanel(x0,x1,xr,first,firstStart,second,secondStart){
 const ax=axes(x0,x1,1485.7,1736.7,
  {visible:true,range:xr,tickmode:'array',tickvals:[-1,0,1],ticktext:['-1','0','1'],ticks:'outside',ticklen:3,tickcolor:'#444',ticklabelstandoff:-9,showline:true,linecolor:'#444',linewidth:1.5,showgrid:false,zeroline:false,tickfont:{family:FONT,size:26,color:TXT}},
  {visible:true,range:[0,.16],tickmode:'array',tickvals:[0,.04,.08,.12,.16],ticktext:['0','','','','0.16'],ticks:'outside',ticklen:4,tickcolor:'#444',showline:true,linecolor:'#444',linewidth:1.5,showgrid:false,zeroline:false,tickfont:{family:FONT,size:26,color:TXT}});
 data.push(Object.assign({type:'bar',x:bins(firstStart,first),y:first,width:.02,marker:{color:'#231f20',line:{width:.4,color:'#555'}},hoverinfo:'skip'},ax));
 const sx=[secondStart-.02].concat(bins(secondStart,second),[secondStart+.02*second.length]),sy=[0].concat(second,[0]);
 data.push(Object.assign({type:'scatter',mode:'lines',x:sx,y:sy,line:{shape:'hvh',width:0,color:'rgba(10,114,185,.75)'},fill:'tozeroy',fillcolor:'rgba(10,114,185,.75)',hoverinfo:'skip'},ax));
}
histPanel(216,606,[-1.005,1.028],E_prepost,E_prepost_start,E_pre,E_pre_start);
histPanel(907,1296,[-1.004,1.026],F_prepost,F_start,F_pre,F_start);

/* arrows, scale bars */
arrow(113,243,267,'#231f20');arrow(176,243,267,'#808080');arrow(112,343,365,'#231f20');arrow(176,343,365,'#808080');
arrow(493,243,267,'#231f20');arrow(694,243,267,'#808080');arrow(493,343,365,'#231f20');arrow(694,343,365,'#808080');
[[297,340,318.5,377.7,368],[602,646,624,377.7,368],[1117.7,1165.6,1141,398,388],[1521,1569,1545,398,388]].forEach(b=>{L(b[0],b[3],b[1],b[3],TXT,1.5);T('0.5s',b[2],b[4],{anchor:'center',size:23});});

/* column text */
[['A',4,24],['B',408,24],['C',790,24],['D',1198,24],['E',142,1426],['F',852,1426]].forEach(a=>T(a[0],a[1],a[2],{size:40}));
[[73,210,212,'Example animal','DLS','#ed1c24'],[454,590,592,'Example animal','DMS','#00a651'],[872,1009,1011,'All animals','DLS','#ed1c24'],[1276,1412,1415.5,'All animals','DMS','#00a651']].forEach(c=>{
 T(c[3],c[0],19,{size:29});T(c[4],c[0],55,{color:c[5],size:27});T('Vertical position',c[0],88);
 T('Dominant',c[0],132);T('forelimb',c[0],156);T('Non-dominant',c[1],132);T('forelimb',c[1],156);
 T('Trajectories',c[0]-1,404);T('Dom. fl.',c[0],433);T('Non-dom. fl.',c[2],433);T('Correlations',c[0]-1,722);
});
[[366,'max','min'],[747,'max','min'],[1163,'max','min'],[1566,'max','min']].forEach(c=>{T(c[1],c[0],454,{size:25});T(c[2],c[0],651,{size:25});});
[['1',366,739],['-0.7',366,946],['1',746,739],['0',746,944],['0.8',1163,735],['-0.6',1163,944],['0.8',1569,738],['-0.4',1569,944]].forEach(a=>T(a[0],a[1],a[2],{size:25}));
/* trial scale rows */
[[72,105,111,164,168,'100 trials'],[453,486,494,547,555,'300 trials'],[871,904,909,960,964.6,'100 trials'],[1276,1308,1314.5,1365,1370,'450 trials']].forEach(c=>{
 L(c[0],679,c[1],679,TXT,1.5);L(c[3],664,c[3],693,TXT,1.5);T('0.5s',c[2],681,{size:23});T(c[5],c[4],681,{size:23});});
[[72,100,105.6,203.6,210,'100 trials'],[453,482,489,590,595,'300 trials']].forEach(c=>{
 L(c[0],966,c[1],966,TXT,1.5);L(c[3],950,c[3],982,TXT,1.5);T(c[5],c[2],968,{size:23});T(c[5],c[4],968,{size:23});});
/* rotated row labels */
R('pre-<br>lesion',38,220,{align:'left'});R('post-<br>lesion',38,333,{align:'left'});
R('pre-<br>lesion',38,503,{align:'left'});R('post-<br>lesion',38,613,{align:'left'});
R('pre-<br>lesion',38,788,{align:'left'});R('post-<br>lesion',38,900,{align:'left'});
R('pre',438,235);R('post',438,342);R('pre',438,500);R('post',438,610);R('pre',438,786);R('post',438,897);
R('pre',852,235);R('post',852,342);R('pre',803,500);R('post',803,610);R('pre',803,786);R('post',803,897);
R('pre',1261,235);R('post',1261,342);R('pre',1214,500);R('post',1214,610);R('pre',1211,786);R('post',1211,897);
R('Animals',831,557);R('Animals',1240,557);R('Animals',831,843);R('Animals',1238,843);
[['1[',869,458],['6[',869,545],['1[',869,573],['6[',869,659],['1[',868,744],['6[',868,833],['1[',868,859],['6[',868,946],
 ['1[',1274,458],['5[',1274,545],['1[',1274,573],['5[',1274,659],['1[',1269,744],['5[',1269,830],['1[',1269,859],['5[',1269,944]].forEach(a=>T(a[0],a[1],a[2],{anchor:'right',size:25}));
/* bar text */
T('Within  animals (n=6)',73,1011);T('Within animals (n=5)',453,1011);T('Across animals (n=6)',873,1011);T('Across animals (n=5)',1277,1011);
R('Correlation',17,1176);R('Correlation',399,1176);R('Correlation',813,1176);R('Correlation',1217,1176);
L(144,1044,261,1044);L(207,1065,264,1065);L(943,1076,1001,1076);L(1005,1076,1061.6,1076);
T('**',200,1039,{anchor:'center',size:30});T('*',235,1059,{anchor:'center',size:30});T('***',969,1070,{anchor:'center',size:30});T('***',1030,1070,{anchor:'center',size:30});
/* histogram text */
T('Pairwise correlations',415,1414,{anchor:'center',size:29});
T('Forelimb trajectories <span style="color:#ed1c24">DLS</span>',415,1451,{anchor:'center',size:29});
T('Pairwise correlations',1103,1414,{anchor:'center',size:29});
T('Forelimb trajectories <span style="color:#00a651">DMS</span>',1103,1451,{anchor:'center',size:29});
T('pre',242,1526,{color:'#1072b8'});T('pre-post',242,1560);T('pre',939,1521,{color:'#1072b8'});T('pre-post',939,1554);
T('Correlation',420,1786,{anchor:'center'});T('Correlation',1097,1786,{anchor:'center'});
[[167,1613],[855,1613]].forEach(a=>annotations.push({text:'Probability',x:a[0]/W,y:1-a[1]/H,xref:'paper',yref:'paper',showarrow:false,xanchor:'center',yanchor:'middle',textangle:-90,font:{family:FONT,size:27,color:TXT}}));

Plotly.newPlot('g',data,layout,{staticPlot:true,displayModeBar:false,responsive:false});
</script></body></html>
